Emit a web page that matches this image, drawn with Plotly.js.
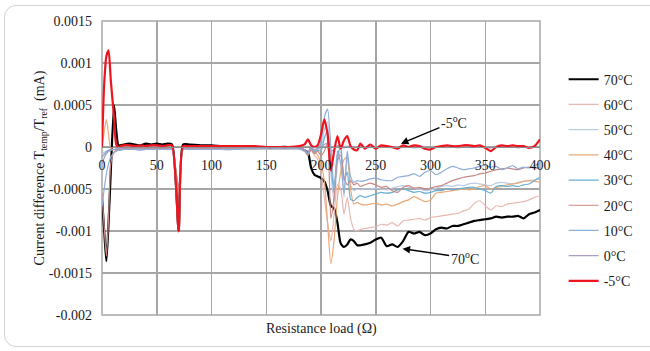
<!DOCTYPE html>
<html>
<head>
<meta charset="utf-8">
<script src="https://cdn.plot.ly/plotly-3.0.1.min.js"></script>
<style>
  html, body { margin:0; padding:0; background:#fff; overflow:hidden; font-family: 'Liberation Serif', serif; }
  #wrap { position:relative; width:650px; height:351px; }
  #chart { position:absolute; left:0; top:0; width:650px; height:351px; }
  #frame { position:absolute; left:4px; top:5px; width:660px; height:340px; border:1.5px solid #d4d4d4; border-radius:12px; pointer-events:none; }
</style>
</head>
<body>
<div id="wrap"><div id="chart"></div><div id="frame"></div></div>
<script>
// Resistance load (Ω)
const resistance = [0,2,4,6,8,11,13,15,17, 20,25,30,35,40,45,50,55,60, 64,70,74,
  80,90,100,110,120,130,140,150,160,170,180,
  185,188,191,194,197,200,203,206,209,212,215,218,221,224,227,230,233,236, 240,
  245,250,255,260,265,270,275,280,285,290,295,300,305,310,315,320,325,330,335,340,345,350,355,360,365,370,375,380,385,390,395,400];

const seriesNames = ['70°C','60°C','50°C','40°C','30°C','20°C','10°C','0°C','-5°C'];

const t70 = [-0.00060,-0.00100,-0.00136,-0.00090,-0.00030,0.00050,0.00020,0.00002,0.00002,
  0.00003,0.00004,0.00003,0.00002,0.00004,0.00003,0.00004,0.00003,0.00004,
  0.00003,-0.00100,0.00003,
  0.00003,0.00002,0.00002,0.00001,0.00001,0.00000,0.00000,0.00000,0.00000,0.00000,-0.00001,
  -0.00004,-0.00006,-0.00025,-0.00033,-0.00035,-0.00037,-0.00041,-0.00052,-0.00070,-0.00073,-0.00090,-0.00115,-0.00119,-0.00116,-0.00110,-0.00112,-0.00117,-0.00117,
  -0.00116,
  -0.00114,-0.00110,-0.00108,-0.00118,-0.00116,-0.00119,-0.00112,-0.00101,-0.00103,-0.00101,
  -0.00105,-0.00103,-0.00098,-0.00096,-0.00097,-0.00094,-0.00094,-0.00092,-0.00090,-0.00088,
  -0.00087,-0.00086,-0.00085,-0.00083,-0.00084,-0.00083,-0.00083,-0.00082,-0.00085,-0.00080,
  -0.00078,-0.00075];

const t60 = [-0.00010,-0.00007,-0.00005,-0.00004,-0.00003,-0.00003,-0.00003,-0.00002,-0.00002,
  -0.00002,-0.00002,-0.00002,-0.00002,-0.00002,-0.00002,-0.00002,-0.00002,-0.00002,
  -0.00002,-0.00050,-0.00002,
  -0.00002,-0.00002,-0.00002,-0.00002,-0.00002,-0.00002,-0.00002,-0.00002,-0.00002,-0.00002,-0.00002,
  -0.00004,-0.00008,-0.00004,-0.00010,-0.00015,-0.00030,-0.00060,-0.00090,-0.00112,-0.00080,-0.00045,-0.00050,-0.00080,-0.00060,-0.00085,-0.00098,-0.00100,-0.00098,
  -0.00097,
  -0.00096,-0.00095,-0.00092,-0.00093,-0.00090,-0.00094,-0.00088,-0.00087,-0.00086,-0.00085,
  -0.00087,-0.00084,-0.00083,-0.00082,-0.00081,-0.00080,-0.00079,-0.00076,-0.00074,-0.00067,
  -0.00064,-0.00070,-0.00075,-0.00070,-0.00071,-0.00068,-0.00067,-0.00066,-0.00065,-0.00063,
  -0.00060,-0.00058];

const t50 = [-0.00008,-0.00006,-0.00005,-0.00004,-0.00003,-0.00003,-0.00003,-0.00003,-0.00003,
  -0.00003,-0.00003,-0.00003,-0.00003,-0.00003,-0.00003,-0.00003,-0.00003,-0.00003,
  -0.00003,-0.00050,-0.00003,
  -0.00003,-0.00003,-0.00003,-0.00003,-0.00003,-0.00002,-0.00002,-0.00002,-0.00002,-0.00002,-0.00002,
  -0.00004,-0.00008,-0.00001,-0.00005,-0.00003,-0.00002,0.00020,0.00030,-0.00030,-0.00065,-0.00020,-0.00005,-0.00060,-0.00010,-0.00045,-0.00052,-0.00050,-0.00051,
  -0.00050,
  -0.00050,-0.00049,-0.00050,-0.00051,-0.00049,-0.00047,-0.00046,-0.00048,-0.00049,-0.00050,
  -0.00052,-0.00051,-0.00049,-0.00047,-0.00046,-0.00047,-0.00045,-0.00046,-0.00044,-0.00043,
  -0.00044,-0.00045,-0.00046,-0.00043,-0.00042,-0.00043,-0.00044,-0.00042,-0.00041,-0.00040,
  -0.00039,-0.00038];

const t40 = [0.00000,0.00018,0.00033,0.00015,-0.00002,-0.00003,-0.00003,-0.00003,-0.00002,
  -0.00002,-0.00002,-0.00002,-0.00002,-0.00002,-0.00002,-0.00002,-0.00002,-0.00002,
  -0.00002,-0.00052,-0.00002,
  -0.00002,-0.00002,-0.00002,-0.00002,-0.00002,-0.00002,-0.00002,-0.00002,-0.00002,-0.00002,-0.00002,
  -0.00004,-0.00010,-0.00002,-0.00006,-0.00010,-0.00020,-0.00040,-0.00090,-0.00139,-0.00110,-0.00060,-0.00030,-0.00015,-0.00012,-0.00050,-0.00068,-0.00066,-0.00068,
  -0.00069,
  -0.00068,-0.00067,-0.00069,-0.00068,-0.00070,-0.00068,-0.00065,-0.00063,-0.00059,-0.00062,
  -0.00065,-0.00063,-0.00055,-0.00054,-0.00053,-0.00052,-0.00051,-0.00050,-0.00051,-0.00050,
  -0.00047,-0.00046,-0.00050,-0.00048,-0.00047,-0.00045,-0.00044,-0.00043,-0.00041,-0.00040,
  -0.00041,-0.00042];

const t30 = [-0.00012,-0.00009,-0.00006,-0.00004,-0.00003,-0.00003,-0.00003,-0.00003,-0.00002,
  -0.00002,-0.00002,-0.00002,-0.00002,-0.00002,-0.00002,-0.00002,-0.00002,-0.00002,
  -0.00002,-0.00050,-0.00002,
  -0.00002,-0.00002,-0.00002,-0.00002,-0.00002,-0.00002,-0.00002,-0.00002,-0.00002,-0.00002,-0.00002,
  -0.00004,-0.00009,-0.00002,-0.00006,-0.00004,-0.00005,0.00010,0.00020,-0.00020,-0.00055,-0.00010,0.00000,-0.00040,-0.00030,-0.00062,-0.00064,-0.00060,-0.00058,
  -0.00060,
  -0.00058,-0.00056,-0.00054,-0.00055,-0.00054,-0.00051,-0.00050,-0.00052,-0.00054,-0.00053,
  -0.00055,-0.00054,-0.00052,-0.00052,-0.00050,-0.00051,-0.00050,-0.00049,-0.00048,-0.00048,
  -0.00050,-0.00052,-0.00055,-0.00047,-0.00046,-0.00047,-0.00046,-0.00047,-0.00045,-0.00044,
  -0.00040,-0.00036];

const t20 = [-0.00055,-0.00095,-0.00130,-0.00085,-0.00020,-0.00006,-0.00004,-0.00003,-0.00002,
  -0.00002,-0.00002,-0.00001,-0.00002,-0.00002,-0.00001,-0.00002,-0.00002,-0.00002,
  -0.00002,-0.00050,-0.00002,
  -0.00002,-0.00002,-0.00002,-0.00002,-0.00002,-0.00002,-0.00002,-0.00001,-0.00001,-0.00001,-0.00002,
  -0.00005,-0.00010,-0.00003,-0.00008,-0.00005,-0.00010,-0.00005,0.00005,-0.00085,-0.00060,-0.00015,-0.00010,-0.00035,-0.00045,-0.00040,-0.00045,-0.00043,-0.00047,
  -0.00045,
  -0.00043,-0.00045,-0.00048,-0.00047,-0.00052,-0.00054,-0.00048,-0.00046,-0.00049,-0.00048,
  -0.00050,-0.00049,-0.00047,-0.00046,-0.00043,-0.00040,-0.00038,-0.00036,-0.00035,-0.00034,
  -0.00032,-0.00031,-0.00029,-0.00027,-0.00026,-0.00025,-0.00026,-0.00027,-0.00025,-0.00024,
  -0.00025,-0.00025];

const t10 = [-0.00070,-0.00050,-0.00032,-0.00020,-0.00012,-0.00007,-0.00005,-0.00004,-0.00004,
  -0.00003,-0.00003,-0.00003,-0.00004,-0.00003,-0.00003,-0.00003,-0.00003,-0.00003,
  -0.00003,-0.00102,-0.00003,
  -0.00003,-0.00003,-0.00003,-0.00003,-0.00003,-0.00002,-0.00002,-0.00002,-0.00002,-0.00002,-0.00002,
  -0.00005,-0.00008,0.00000,-0.00004,-0.00002,0.00005,0.00035,0.00045,0.00000,-0.00050,-0.00005,-0.00020,-0.00055,-0.00005,-0.00035,-0.00042,-0.00040,-0.00041,
  -0.00040,
  -0.00038,-0.00037,-0.00039,-0.00040,-0.00040,-0.00036,-0.00035,-0.00034,-0.00032,-0.00035,
  -0.00030,-0.00028,-0.00033,-0.00030,-0.00026,-0.00023,-0.00025,-0.00027,-0.00026,-0.00025,
  -0.00023,-0.00022,-0.00024,-0.00023,-0.00027,-0.00025,-0.00022,-0.00026,-0.00024,-0.00025,
  -0.00022,-0.00020];

const t0 = [-0.00020,-0.00013,-0.00008,-0.00005,-0.00004,-0.00003,-0.00002,-0.00002,-0.00002,
  -0.00001,-0.00001,-0.00001,-0.00001,-0.00001,-0.00001,-0.00001,-0.00001,-0.00001,
  -0.00001,-0.00100,-0.00001,
  -0.00001,-0.00001,-0.00001,-0.00001,-0.00001,-0.00001,-0.00001,-0.00001,-0.00001,-0.00001,-0.00001,
  -0.00003,-0.00006,0.00000,-0.00003,-0.00002,0.00000,0.00003,0.00005,-0.00005,-0.00003,0.00002,0.00000,-0.00001,0.00001,0.00000,-0.00001,0.00000,0.00000,
  0.00000,
  0.00000,-0.00001,0.00000,0.00000,-0.00001,0.00000,0.00000,0.00000,-0.00001,0.00000,
  0.00000,-0.00001,0.00000,0.00000,0.00000,0.00000,-0.00001,0.00000,0.00000,0.00000,
  0.00000,-0.00001,-0.00001,0.00000,0.00000,0.00000,0.00000,-0.00001,0.00000,0.00000,
  0.00000,0.00000];

const tm5 = [0.00000,0.00075,0.00108,0.00115,0.00080,0.00035,0.00003,0.00000,0.00001,
  0.00002,0.00002,0.00001,0.00002,0.00001,0.00002,0.00002,0.00001,0.00002,
  0.00002,-0.00100,0.00001,
  0.00001,0.00001,0.00001,0.00001,0.00001,0.00001,0.00001,0.00000,0.00000,0.00000,0.00001,
  0.00003,0.00009,0.00002,0.00000,0.00002,0.00015,0.00033,0.00015,-0.00028,-0.00005,0.00013,-0.00002,0.00008,0.00013,0.00001,-0.00003,-0.00004,0.00004,
  -0.00002,
  0.00003,-0.00002,0.00002,0.00001,0.00000,-0.00002,0.00002,0.00000,0.00002,0.00001,
  -0.00002,-0.00003,0.00000,0.00001,0.00002,0.00001,0.00001,0.00002,0.00002,0.00001,
  0.00002,-0.00001,-0.00005,0.00000,0.00002,0.00001,0.00002,0.00001,0.00001,-0.00001,
  0.00001,0.00009];

const seriesValues = [t70, t60, t50, t40, t30, t20, t10, t0, tm5];
const seriesColors = ['#000000','#E8B8B4','#BACCE6','#EBA977','#6AAFD0','#C98885','#8EAEDA','#A99BC2','#F0141E'];
const seriesWidths = [2.2,1.2,1.2,1.2,1.2,1.2,1.2,1.2,2.2];

const xTickVals = [0,50,100,150,200,250,300,350,400];
const xTickText = ['0','50','100','150','200','250','300','350','400'];
const yTickVals = [-0.002,-0.0015,-0.001,-0.0005,0,0.0005,0.001,0.0015];
const yTickText = ['-0.002','-0.0015','-0.001','-0.0005','0','0.0005','0.001','0.0015'];

const FONT = 'Liberation Serif';

const traces = seriesNames.map((name, i) => ({
  type:'scatter', mode:'lines', name:name,
  x: resistance, y: seriesValues[i],
  line:{color:seriesColors[i], width:seriesWidths[i], shape:'spline', smoothing:0.6},
  legendgroup:'g'+i
}));

const layout = {
  width:650, height:351,
  margin:{l:102, r:104, t:21, b:36},
  paper_bgcolor:'#ffffff', plot_bgcolor:'#ffffff',
  font:{family:FONT, size:14, color:'#1a1a1a'},
  showlegend:true,
  xaxis:{
    range:[0,400], tickmode:'array', tickvals:xTickVals, ticktext:xTickText,
    anchor:'free', position:0.5714,
    showline:true, linecolor:'#8f8f8f', linewidth:1.3,
    showgrid:true, gridcolor:'#a6a6a6', gridwidth:1.5,
    zeroline:false, ticks:'', ticklabelstandoff:5,
    tickfont:{family:FONT, size:14, color:'#1a1a1a'}
  },
  yaxis:{
    range:[-0.002,0.0015], tickmode:'array', tickvals:yTickVals, ticktext:yTickText,
    showgrid:true, gridcolor:'#a6a6a6', gridwidth:1.5,
    zeroline:false, showline:false, ticks:'', ticklabelstandoff:9,
    tickfont:{family:FONT, size:14, color:'#1a1a1a'},
    title:{text:'Current difference T<sub>temp</sub>/T<sub>ref</sub>  (mA)', font:{family:FONT, size:14, color:'#1a1a1a'}, standoff:0}
  },
  legend:{
    x:1.054, xanchor:'left', y:0.855, yanchor:'top',
    font:{family:FONT, size:14, color:'#1a1a1a'},
    tracegroupgap:4, bgcolor:'rgba(0,0,0,0)', borderwidth:0
  },
  shapes:[
    {type:'rect', xref:'paper', yref:'paper', x0:0, x1:1, y0:0, y1:1, line:{color:'#a6a6a6', width:1.5}, layer:'below'}
  ],
  annotations:[
    {xref:'paper', yref:'paper', x:0.5, y:0, yanchor:'top', xanchor:'center', yshift:-4, showarrow:false,
     text:'Resistance load (Ω)', font:{family:FONT, size:14, color:'#1a1a1a'}},
    {x:273, y:0.00004, xref:'x', yref:'y', text:'-5<sup>o</sup>C', showarrow:true, arrowhead:2, arrowsize:1, arrowwidth:1.5,
     arrowcolor:'#000', ax:53, ay:-22, font:{family:FONT, size:14, color:'#1a1a1a'}},
    {x:274.5, y:-0.00121, xref:'x', yref:'y', text:'70<sup>o</sup>C', showarrow:true, arrowhead:2, arrowsize:1, arrowwidth:1.5,
     arrowcolor:'#000', ax:62, ay:9, font:{family:FONT, size:14, color:'#1a1a1a'}}
  ]
};

Plotly.newPlot('chart', traces, layout, {staticPlot:true, displayModeBar:false});
</script>
</body>
</html>
